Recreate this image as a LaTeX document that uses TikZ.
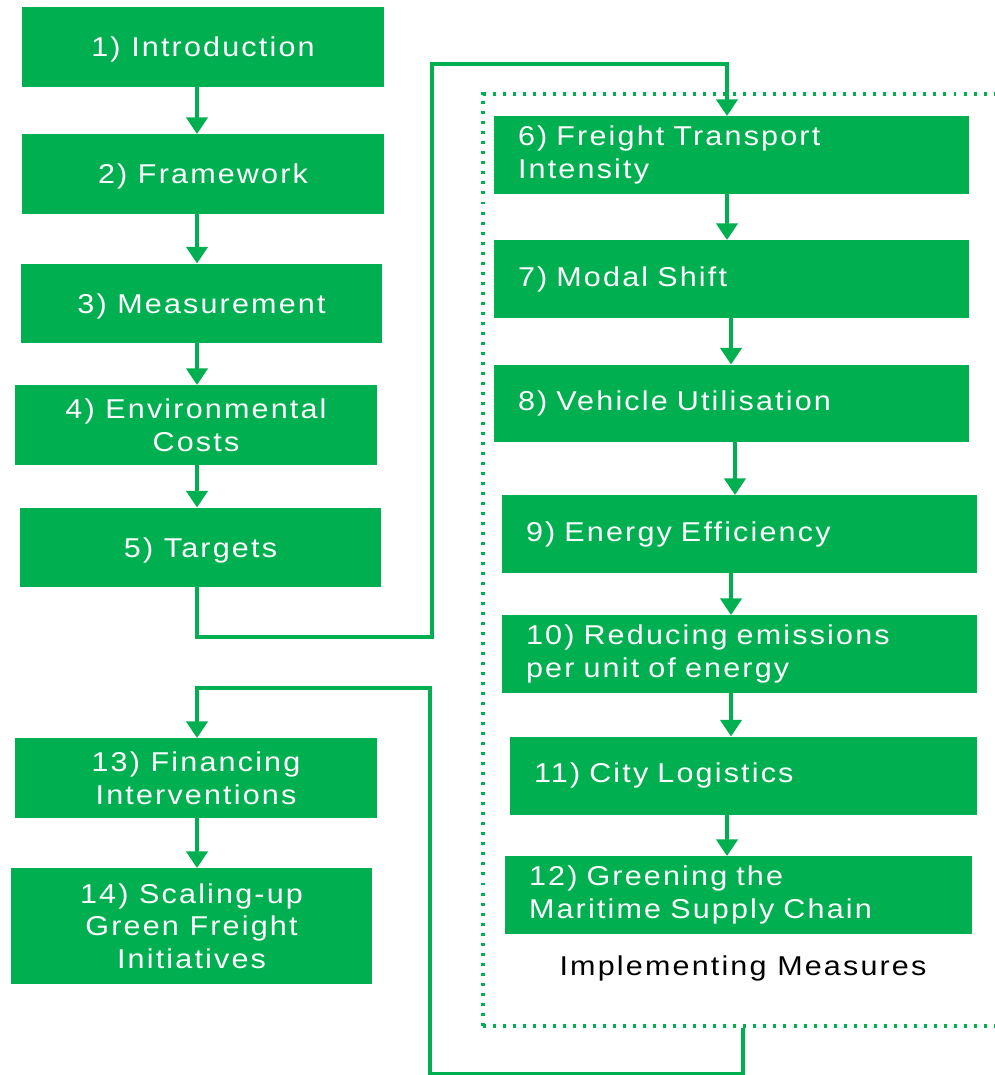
\documentclass[tikz,border=0pt]{standalone}
\usepackage{fontspec}
\setmainfont{Liberation Sans}[FakeStretch=1.12,LetterSpace=8]
\usetikzlibrary{arrows.meta}
\definecolor{sgreen}{HTML}{00B050}

\begin{document}
\begin{tikzpicture}[x=0.02cm, y=-0.02cm, sgreen, line width=2.3pt,
	arrows={-Triangle[width=12pt,length=9.5pt]},
	box/.style={fill=sgreen, text=white, inner sep=0pt, outer sep=0pt, font=\fontsize{15.5}{18.7}\selectfont},
	lbox/.style={box, align=center, text depth=0pt, minimum width=7.24cm, minimum height=1.6cm},
	rbox/.style={box, align=left, text width=#1, inner xsep=0.48cm, minimum height=1.56cm},
	rbox/.default=8.54cm]
	\useasboundingbox (0,0) rectangle (994,1075);

	\node[draw, line width=2pt, dash pattern=on 1.7pt off 4pt, minimum width=10.34cm, minimum height=18.64cm] (measures) at (741.5,560) {};
	\node[text=black, font=\fontsize{15.5}{18.7}\selectfont] (label) at (743,968) {Implementing Measures};

	\node[lbox] (n1) at (203,47) {1) Introduction};
	\node[lbox] (n2) at (203,174) {2) Framework};
	\node[lbox] (n3) at (201.5,303.5) {3) Measurement};
	\node[lbox] (n4) at (196,425) {4) Environmental\\Costs};
	\node[lbox] (n5) at (200.5,547.5) {5) Targets};
	\node[lbox] (n13) at (196,778) {13) Financing\\Interventions};
	\node[lbox, minimum height=2.32cm] (n14) at (191.5,926) {14) Scaling-up\\Green Freight\\Initiatives};

	\node[rbox] (n6) at (731.5,155) {6) Freight Transport\\Intensity};
	\node[rbox] (n7) at (731.5,279) {7) Modal Shift};
	\node[rbox] (n8) at (731.5,403.5) {8) Vehicle Utilisation};
	\node[rbox] (n9) at (739.5,534) {9) Energy Efficiency};
	\node[rbox] (n10) at (739.5,654) {10) Reducing emissions\\per unit of energy};
	\node[rbox=8.38cm] (n11) at (743.5,775.5) {11) City Logistics};
	\node[rbox=8.38cm] (n12) at (738.5,895) {12) Greening the\\Maritime Supply Chain};

	\foreach \a/\b in {n1/n2, n2/n3, n3/n4, n4/n5, n13/n14}
		\draw (\a.south -| 197,0) -- (\b.north -| 197,0);
	\foreach \a/\b/\x in {n6/n7/727, n7/n8/731, n8/n9/735, n9/n10/731, n10/n11/731, n11/n12/727}
		\draw (\a.south -| \x,0) -- (\b.north -| \x,0);

	\draw (n5.south -| 197,0) |- (432,637) -- (432,64) -| (n6.north -| 727,0);
	\draw (measures.south -| 743,0) |- (430,1074) -- (430,688) -| (n13.north -| 197,0);
\end{tikzpicture}
\end{document}
